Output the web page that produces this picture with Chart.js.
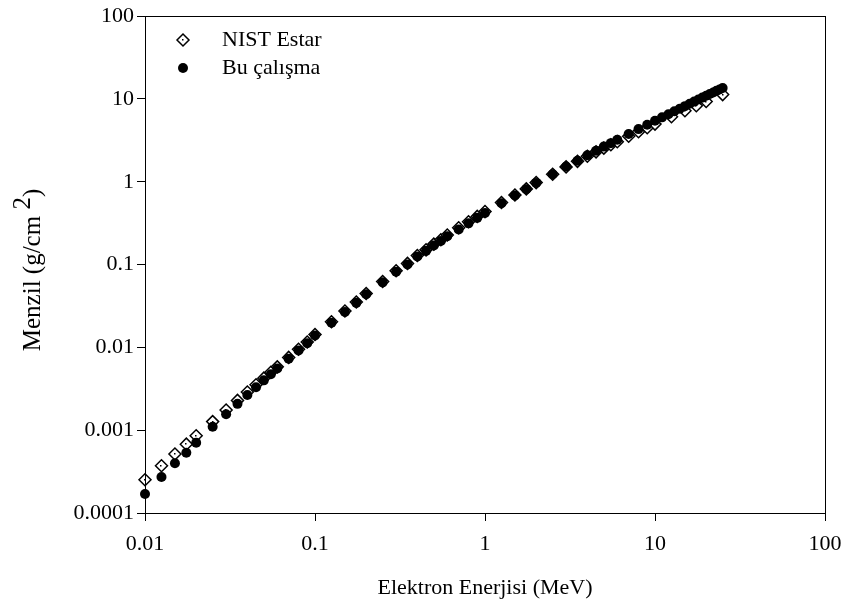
<!DOCTYPE html>
<html>
<head>
<meta charset="utf-8">
<script src="https://cdn.jsdelivr.net/npm/chart.js@4.4.0/dist/chart.umd.min.js"></script>
<style>
  html,body{margin:0;padding:0;background:#fff}
  #wrap{width:856px;height:607px}
</style>
</head>
<body>
<div id="wrap"><canvas id="ch" width="856" height="607"></canvas></div>
<script>
// NIST Estar grid (MeV) and CSDA range (g/cm2)
const energyNist=[0.01,0.0125,0.015,0.0175,0.02,0.025,0.03,0.035,0.04,0.045,0.05,0.055,0.06,0.07,0.08,0.09,
  0.1,0.125,0.15,0.175,0.2,0.25,0.3,0.35,0.4,0.45,0.5,0.55,0.6,0.7,0.8,0.9,
  1,1.25,1.5,1.75,2,2.5,3,3.5,4,4.5,5,5.5,6,7,8,9,10,12.5,15,17.5,20,25];
const rangeNist=[2.52e-4,3.72e-4,5.15e-4,6.78e-4,8.58e-4,1.27e-3,1.75e-3,2.29e-3,2.89e-3,3.54e-3,4.25e-3,5.01e-3,5.82e-3,7.57e-3,9.50e-3,1.16e-2,
  1.43e-2,2.04e-2,2.75e-2,3.53e-2,4.48e-2,6.25e-2,8.42e-2,0.1033,0.1288,0.1508,0.1766,0.1996,0.2281,0.2783,0.3297,0.3818,
  0.4367,0.563,0.6925,0.8209,0.9785,1.232,1.514,1.766,2.037,2.30,2.55,2.80,3.052,3.545,4.03,4.506,4.975,6.117,7.219,8.285,9.32,11.31];

// this work
const energyCalc=[0.01,0.0125,0.015,0.0175,0.02,0.025,0.03,0.035,0.04,0.045,0.05,0.055,0.06,0.07,0.08,0.09,
  0.1,0.125,0.15,0.175,0.2,0.25,0.3,0.35,0.4,0.45,0.5,0.55,0.6,0.7,0.8,0.9,
  1,1.25,1.5,1.75,2,2.5,3,3.5,4,4.5,5,5.5,6,7,8,9,
  10,11,12,13,14,15,16,17,18,19,20,21,22,23,24,25];
const rangeCalc=[1.70e-4,2.72e-4,3.98e-4,5.35e-4,7.05e-4,1.10e-3,1.56e-3,2.08e-3,2.66e-3,3.30e-3,4.00e-3,4.75e-3,5.55e-3,7.28e-3,9.20e-3,1.125e-2,
  1.39e-2,1.98e-2,2.68e-2,3.45e-2,4.38e-2,6.10e-2,8.20e-2,0.1005,0.125,0.1465,0.1705,0.1925,0.2195,0.266,0.315,0.367,
  0.42,0.55,0.685,0.815,0.97,1.235,1.53,1.80,2.09,2.37,2.66,2.93,3.22,3.78,4.33,4.89,
  5.45,6.0,6.55,7.1,7.65,8.2,8.75,9.3,9.85,10.4,10.95,11.5,12.0,12.55,13.05,13.6];

const xTicks=[0.01,0.1,1,10,100];
const yTicks=[0.0001,0.001,0.01,0.1,1,10,100];
const seriesNames=['NIST Estar','Bu çalışma'];
const xTitle='Elektron Enerjisi (MeV)';
const yTitleParts=['Menzil (g/cm ','2',')'];

const FONT='"Liberation Serif","Times New Roman",serif';
const FS=22;

// titles, legend, frame
const deco={
  id:'deco',
  afterDatasetsDraw(chart){
    const ctx=chart.ctx;
    // little dot in the middle of each diamond
    const meta=chart.getDatasetMeta(0);
    ctx.save();
    ctx.fillStyle='#000';
    meta.data.forEach(p=>{ctx.fillRect(Math.round(p.x)-1,Math.round(p.y)-1,1.5,1.5);});
    ctx.restore();
  },
  afterDraw(chart){
    const ctx=chart.ctx, a=chart.chartArea;
    ctx.save();
    ctx.strokeStyle='#000';ctx.lineWidth=1;
    ctx.strokeRect(Math.round(a.left)+0.5,Math.round(a.top)+0.5,Math.round(a.right-a.left),Math.round(a.bottom-a.top));
    ctx.fillStyle='#000';
    ctx.font=FS+'px '+FONT;
    ctx.textBaseline='middle';
    // x title
    ctx.textAlign='center';
    ctx.fillText(xTitle,(a.left+a.right)/2,588);
    // y title with raised 2
    ctx.save();
    ctx.font='25px '+FONT;
    ctx.translate(33,270);
    ctx.rotate(-Math.PI/2);
    const w0=ctx.measureText(yTitleParts[0]).width;
    const w1=ctx.measureText(yTitleParts[1]).width;
    const w2=ctx.measureText(yTitleParts[2]).width;
    let x=-(w0+w1+w2)/2;
    ctx.textAlign='left';
    ctx.fillText(yTitleParts[0],x,0); x+=w0;
    ctx.fillText(yTitleParts[1],x,-10); x+=w1;
    ctx.fillText(yTitleParts[2],x,0);
    ctx.restore();
    // legend
    const lx=183, tx=222, ly=[40,68];
    ctx.lineWidth=1.5;
    ctx.beginPath();
    ctx.moveTo(lx-6,ly[0]);ctx.lineTo(lx,ly[0]-6);ctx.lineTo(lx+6,ly[0]);ctx.lineTo(lx,ly[0]+6);ctx.closePath();
    ctx.fillStyle='#fff';ctx.fill();ctx.stroke();
    ctx.fillStyle='#000';ctx.fillRect(lx-1,ly[0]-1,1.5,1.5);
    ctx.beginPath();ctx.arc(lx,ly[1],5,0,Math.PI*2);ctx.fill();
    ctx.textAlign='left';
    ctx.fillText(seriesNames[0],tx,ly[0]);
    ctx.fillText(seriesNames[1],tx,ly[1]);
    ctx.restore();
  }
};

const tickFont={family:FONT,size:FS};

new Chart(document.getElementById('ch').getContext('2d'),{
  type:'scatter',
  data:{datasets:[
    {label:seriesNames[0],data:energyNist.map((e,i)=>({x:e,y:rangeNist[i]})),
     pointStyle:'rectRot',pointRadius:6,backgroundColor:'#fff',borderColor:'#000',borderWidth:1.5,order:1,clip:false},
    {label:seriesNames[1],data:energyCalc.map((e,i)=>({x:e,y:rangeCalc[i]})),
     pointStyle:'circle',pointRadius:5,backgroundColor:'#000',borderColor:'#000',borderWidth:0,order:0,clip:false}
  ]},
  options:{
    responsive:false,animation:false,
    layout:{padding:{left:0,right:31,top:15,bottom:0}},
    plugins:{legend:{display:false},tooltip:{enabled:false}},
    scales:{
      x:{type:'logarithmic',position:'bottom',min:0.01,max:100,
        afterBuildTicks:s=>{s.ticks=xTicks.map(v=>({value:v}));},
        afterFit:s=>{s.height=94;},
        ticks:{callback:v=>String(v),font:tickFont,color:'#000',padding:10,maxRotation:0,autoSkip:false},
        grid:{drawOnChartArea:false,drawTicks:true,tickLength:8,color:'#000'},
        border:{color:'#000',width:1}},
      y:{type:'logarithmic',position:'left',min:0.0001,max:100,
        afterBuildTicks:s=>{s.ticks=yTicks.map(v=>({value:v}));},
        afterFit:s=>{s.width=145;},
        ticks:{callback:v=>String(v),font:tickFont,color:'#000',padding:3,autoSkip:false},
        grid:{drawOnChartArea:false,drawTicks:true,tickLength:8,color:'#000'},
        border:{color:'#000',width:1}}
    }
  },
  plugins:[deco]
});
</script>
</body>
</html>
